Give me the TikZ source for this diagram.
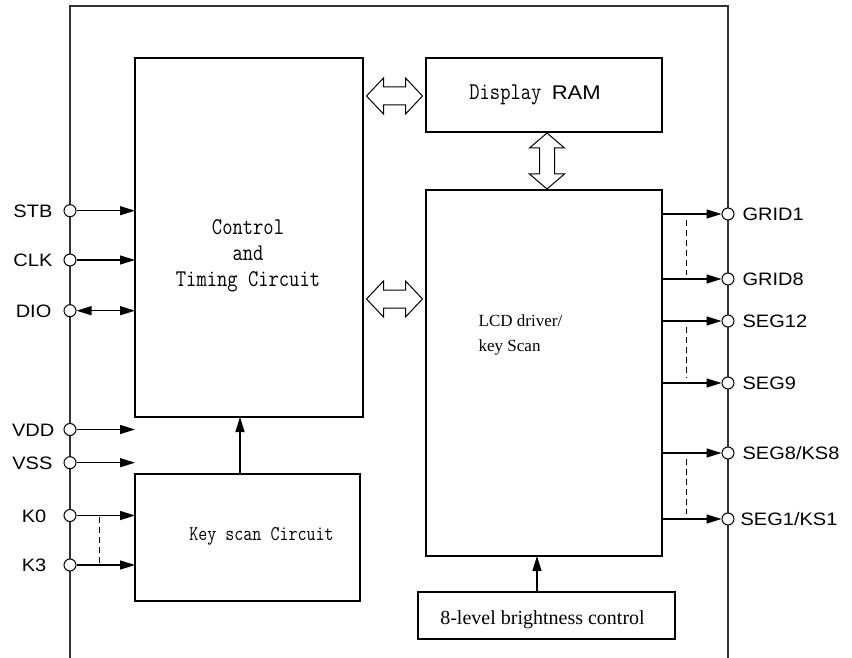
\documentclass[tikz,border=0pt]{standalone}
\usepackage{fontspec}
\setmainfont{Liberation Serif}
\newfontfamily\arialf{Liberation Sans}
\usetikzlibrary{arrows.meta,calc}
\newcommand{\pinlab}[1]{\scalebox{1}[0.9]{#1}}
\newcommand{\monolab}[1]{\scalebox{1}[1.2]{#1}}
\begin{document}
\begin{tikzpicture}[x=1pt,y=-1pt,line width=1.3pt,
  box/.style={draw,inner sep=0pt,outer sep=0pt},
  pinc/.style={draw,circle,fill=white,minimum size=12pt,inner sep=0pt,line width=1pt},
  tip/.style={-{Triangle[length=15pt,width=9pt]}},
  tipb/.style={{Triangle[length=15pt,width=9pt]}-{Triangle[length=15pt,width=9pt]}},
  dsh/.style={line width=1pt,dash pattern=on 6pt off 4pt},
  lpin/.style={anchor=base east,inner sep=0pt,font=\arialf\fontsize{20}{24}\selectfont},
  rpin/.style={anchor=base west,inner sep=0pt,font=\arialf\fontsize{20}{24}\selectfont},
  mono/.style={font=\ttfamily\fontsize{20}{21.7}\selectfont,inner sep=0pt},
  serif/.style={font=\fontsize{17}{25}\selectfont,inner sep=0pt},
  dblarrow/.style={line width=1pt,fill=white}]
\useasboundingbox (0,0) rectangle (852,658);

% outer chip outline
\draw[line width=1.5pt,black!80] (70,660) -- (70,6) -- (728,6) -- (728,660);

% blocks
\node[box,minimum width=228pt,minimum height=359pt] (ctrl) at (249,237.5) {};
\node[box,minimum width=236pt,minimum height=74pt] (ram) at (544,95) {};
\node[box,line width=2pt,minimum width=236pt,minimum height=366pt] (lcd) at (544,373) {};
\node[box,minimum width=225pt,minimum height=127pt] (ks) at (247.5,537.5) {};
\node[box,minimum width=257pt,minimum height=47pt] (br) at (546.5,615.5) {};

% block texts
\node[mono] (ctrltxt) at (248,255) {\monolab{\begin{tabular}{@{}c@{}}Control\\and\\Timing Circuit\end{tabular}}};
\node[mono,anchor=base] (ramtxt) at (535,100) {\monolab{Display \arialf\fontsize{22}{24}\selectfont\scalebox{1}[0.75]{RAM}}};
\node[serif,anchor=north west,align=left] (lcdtxt) at (478,314) {LCD driver/\\key Scan};
\node[mono,anchor=base,font=\ttfamily\fontsize{17.5}{20}\selectfont] (kstxt) at (261.5,540) {\monolab{Key scan Circuit}};
\node[serif,anchor=base,font=\fontsize{20}{24}\selectfont] (brtxt) at (542.5,624) {8-level brightness control};

% left pins
\node[pinc] (stb) at (70,210.7) {};
\node[pinc] (clk) at (70,260) {};
\node[pinc] (dio) at (70,310.7) {};
\node[pinc] (vdd) at (70,429.5) {};
\node[pinc] (vss) at (70,462.7) {};
\node[pinc] (k0) at (70,515.5) {};
\node[pinc] (k3) at (70,565) {};

\node[lpin] (lstb) at (53,217.2) {\pinlab{STB}};
\node[lpin] (lclk) at (53,266.5) {\pinlab{CLK}};
\node[lpin] (ldio) at (52,317.2) {\pinlab{DIO}};
\node[lpin] (lvdd) at (55,436) {\pinlab{VDD}};
\node[lpin] (lvss) at (53,469.2) {\pinlab{VSS}};
\node[lpin] (lk0) at (47,522) {\pinlab{K0}};
\node[lpin] (lk3) at (47,571.5) {\pinlab{K3}};

\draw[tip] (stb) -- (stb -| ctrl.west);
\draw[tip] (clk) -- (clk -| ctrl.west);
\draw[tipb] (dio) -- (dio -| ctrl.west);
\draw[tip] (vdd) -- (vdd -| ctrl.west);
\draw[tip] (vss) -- (vss -| ctrl.west);
\draw[tip] (k0) -- (k0 -| ks.west);
\draw[tip] (k3) -- (k3 -| ks.west);
\coordinate (kd1) at (99,517);
\coordinate (kd2) at (99,563);
\draw[dsh] (kd1) -- (kd2);

% right pins
\node[pinc] (g1) at (728,214) {};
\node[pinc] (g8) at (728,279) {};
\node[pinc] (s12) at (728,321) {};
\node[pinc] (s9) at (728,383) {};
\node[pinc] (s8) at (728,453) {};
\node[pinc] (s1) at (728,519) {};

\node[rpin] (lg1) at (742,220.5) {\pinlab{GRID1}};
\node[rpin] (lg8) at (742,285.5) {\pinlab{GRID8}};
\node[rpin] (ls12) at (742,327.5) {\pinlab{SEG12}};
\node[rpin] (ls9) at (742,389.5) {\pinlab{SEG9}};
\node[rpin] (ls8) at (742,459.5) {\pinlab{SEG8/KS8}};
\node[rpin] (ls1) at (740,525.5) {\pinlab{SEG1/KS1}};

\draw[tip] (g1 -| lcd.east) -- (g1);
\draw[tip] (g8 -| lcd.east) -- (g8);
\draw[tip] (s12 -| lcd.east) -- (s12);
\draw[tip] (s9 -| lcd.east) -- (s9);
\draw[tip] (s8 -| lcd.east) -- (s8);
\draw[tip] (s1 -| lcd.east) -- (s1);
\coordinate (rd1a) at (686,220); \coordinate (rd1b) at (686,275);
\coordinate (rd2a) at (686,327); \coordinate (rd2b) at (686,378);
\coordinate (rd3a) at (686,459); \coordinate (rd3b) at (686,514);
\draw[dsh] (rd1a) -- (rd1b);
\draw[dsh] (rd2a) -- (rd2b);
\draw[dsh] (rd3a) -- (rd3b);

% internal arrows
\draw[tip] ([xshift=-7.5pt]ks.north) -- ([xshift=-7.5pt]ks.north |- ctrl.south);
\draw[tip] ([xshift=-9.5pt]br.north) -- ([xshift=-9.5pt]br.north |- lcd.south);

% double arrows
\coordinate (h1) at ($(ctrl.east |- 0,96)!0.5!(ram.west |- 0,96)$);
\coordinate (h2) at ($(ctrl.east |- 0,299)!0.5!(lcd.west |- 0,299)$);
\coordinate (v1) at ($(ram.south)!0.5!(lcd.north)+(3,0)$);
\draw[dblarrow,shift={(h1)}] (-28,0) -- (-11,-18) -- (-11,-9) -- (11,-9) -- (11,-18) -- (28,0) -- (11,18) -- (11,9) -- (-11,9) -- (-11,18) -- cycle;
\draw[dblarrow,shift={(h2)}] (-28,0) -- (-11,-18) -- (-11,-9) -- (11,-9) -- (11,-18) -- (28,0) -- (11,18) -- (11,9) -- (-11,9) -- (-11,18) -- cycle;
\draw[dblarrow,shift={(v1)}] (0,-28) -- (-17.5,-13) -- (-7.5,-13) -- (-7.5,13) -- (-17.5,13) -- (0,28) -- (17.5,13) -- (7.5,13) -- (7.5,-13) -- (17.5,-13) -- cycle;
\end{tikzpicture}
\end{document}
